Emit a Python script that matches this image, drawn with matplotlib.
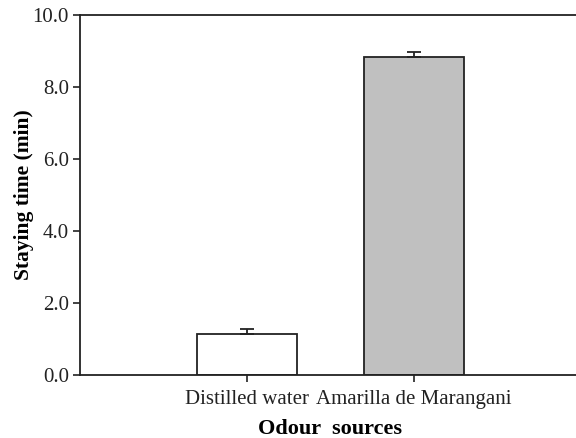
import numpy as np
import matplotlib
matplotlib.use("Agg")
from matplotlib import pyplot as plt

sources = ["Distilled water", "Amarilla de Marangani"]
staying_time = [1.14, 8.83]
std_err = [0.15, 0.15]
bar_colors = ["white", "#c0c0c0"]


def main():
  plt.rcParams['font.family'] = ['Liberation Serif', 'DejaVu Serif']
  fig = plt.figure(figsize=(5.76, 4.38), dpi=100)
  ax = fig.add_axes([80 / 576, 1 - 375 / 438, 501 / 576, 360 / 438])

  x = np.arange(1, len(sources) + 1)
  ax.bar(x, staying_time, width=0.6, color=bar_colors, edgecolor="#222222",
         linewidth=1.3, zorder=2)
  ax.errorbar(x, staying_time, yerr=[[0, 0], std_err], fmt="none",
              ecolor="#222222", elinewidth=1.3, capsize=5, capthick=1.3,
              zorder=3)

  ax.set_xlim(0, 3)
  ax.set_ylim(0, 10)
  ax.set_yticks(np.arange(0, 10.1, 2))
  ax.set_yticklabels(["%.1f" % v for v in np.arange(0, 10.1, 2)])
  ax.set_xticks(x)
  ax.set_xticklabels(sources)

  for s in ["left", "top", "bottom"]:
    ax.spines[s].set_linewidth(1.3)
    ax.spines[s].set_color("#222222")
  ax.spines["right"].set_visible(False)
  ax.tick_params(axis="both", direction="out", length=5, width=1.2,
                 labelsize=15, colors="#222222", pad=3)
  ax.tick_params(axis="x", pad=6)

  ax.set_ylabel("Staying time (min)", fontsize=15.5, fontweight="bold",
                labelpad=-1)
  ax.set_xlabel("Odour  sources", fontsize=16, fontweight="bold",
                labelpad=7)

  fig.savefig("out.png", dpi=100)


if __name__ == '__main__':
  main()
